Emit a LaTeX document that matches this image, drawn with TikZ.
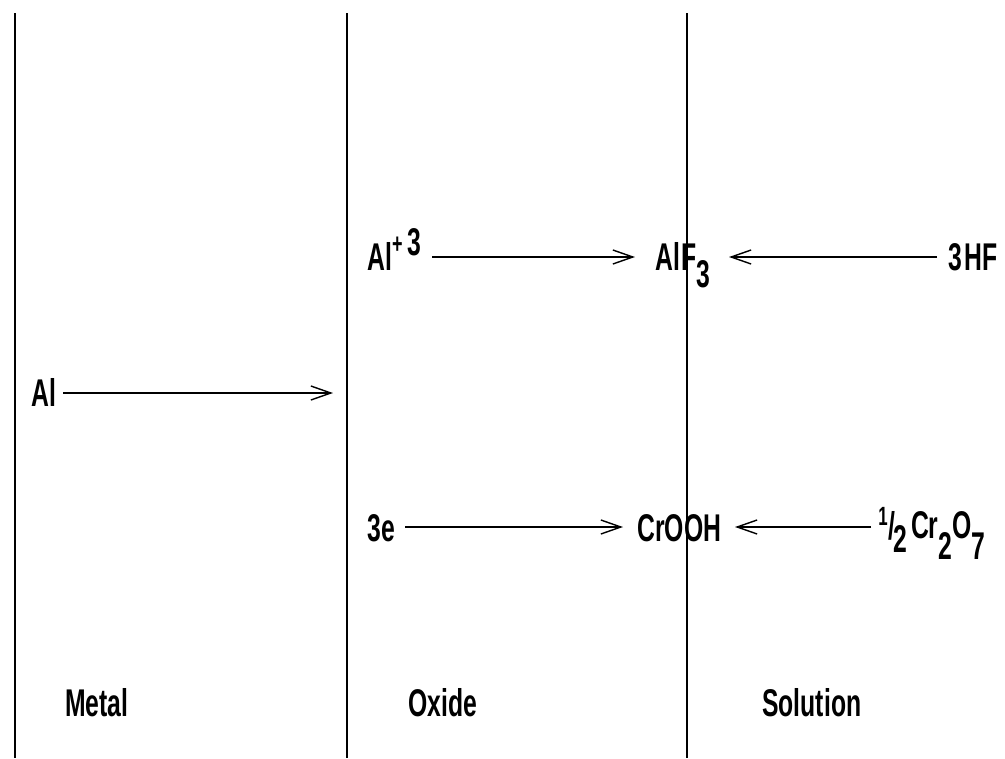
\documentclass[tikz,border=0pt]{standalone}
\usepackage{fontspec}
\setmainfont{Liberation Sans}[FakeStretch=0.64]
\usetikzlibrary{arrows.meta}
\begin{document}
\begin{tikzpicture}[x=0.02cm,y=-0.02cm,
  lbl/.style={anchor=base west,inner sep=0pt,font=\fontsize{22}{26}\selectfont\bfseries},
  wall/.style={line width=1.6pt},
  arr/.style={line width=0.75pt,-{Straight Barb[length=0.4cm,width=0.28cm,line width=0.8pt]}}]
\useasboundingbox (0,0) rectangle (1005,758);
% phase boundaries
\draw[wall] (15,13) -- (15,758);
\draw[wall] (347,13) -- (347,758);
\draw[wall] (687,13) -- (687,758);
% labels
\node[lbl] (al) at (31,406) {Al};
\node[lbl] (alion) at (367,270) {Al\raisebox{9.4pt}{\fontsize{16}{18}\selectfont +}\kern3pt\raisebox{8.5pt}{3}};
\node[lbl] (alf) at (655,270) {Al\kern1pt F\raisebox{-10.2pt}{3}};
\node[lbl] (hf) at (948,270) {3\kern1.5pt HF};
\node[lbl] (e) at (367,541) {3e};
\node[lbl] (crooh) at (637,541) {CrOOH};
\node[lbl] (cr) at (878,538) {\raisebox{7pt}{\fontsize{15}{17}\selectfont 1}\kern0.5pt\raisebox{-1pt}{/}\kern-1pt\raisebox{-8.5pt}{2}\kern2pt Cr\raisebox{-12pt}{2}O\raisebox{-12pt}{7}};
\node[lbl] (metal) at (65,716) {Metal};
\node[lbl] (oxide) at (408,716) {Oxide};
\node[lbl] (sol) at (762,716) {Solution};
% arrow end points
\coordinate (a1s) at (63,393);   \coordinate (a1e) at (333,393);
\coordinate (a2s) at (432,257);  \coordinate (a2e) at (635,257);
\coordinate (a3s) at (937,257);  \coordinate (a3e) at (729,257);
\coordinate (a4s) at (405,527);  \coordinate (a4e) at (623,527);
\coordinate (a5s) at (871,527);  \coordinate (a5e) at (735,527);
\draw[arr] (a1s) -- (a1e);
\draw[arr] (a2s) -- (a2e);
\draw[arr] (a3s) -- (a3e);
\draw[arr] (a4s) -- (a4e);
\draw[arr] (a5s) -- (a5e);
\end{tikzpicture}
\end{document}
